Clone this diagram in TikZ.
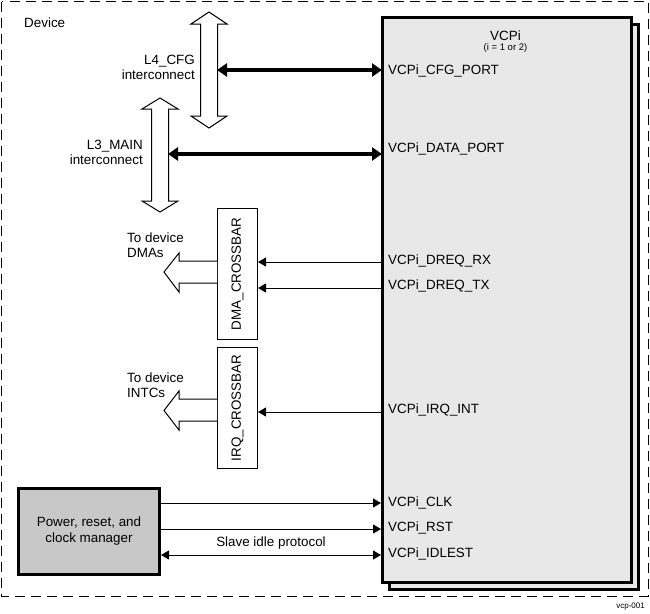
\documentclass[tikz,border=0pt]{standalone}
\usepackage{fontspec}
\setmainfont{Liberation Sans}
\usetikzlibrary{arrows.meta}
\definecolor{boxgray}{HTML}{E8E8E8}
\definecolor{pwrgray}{HTML}{C8C8C8}
\begin{document}
\begin{tikzpicture}[x=1pt,y=-1pt,
  font=\fontsize{13.4}{15}\selectfont,
  lbl/.style={inner sep=0pt},
  portlbl/.style={inner sep=0pt, anchor=west},
  mainbox/.style={draw, line width=3pt, fill=boxgray, minimum width=249pt, minimum height=565pt, anchor=north west, inner sep=0pt},
  xbar/.style={draw, line width=1pt, fill=white, minimum width=40pt, inner sep=0pt, anchor=north west},
  bigarrow/.style={line width=4pt, {Triangle[length=10pt,width=13pt]}-{Triangle[length=10pt,width=13pt]}, shorten <=-1pt, shorten >=-1pt},
  sig/.style={line width=1pt, -{Triangle[length=8pt,width=9pt]}},
  hollow/.style={draw, line width=1pt, fill=white, line join=miter}
]
\useasboundingbox (0,0) rectangle (650,613);
% device border
\draw[line width=1pt, dash pattern=on 10pt off 6pt] (1.5,1.5) rectangle (648,596);
\node[lbl, anchor=west] (dev) at (24,23) {Device};
\node[lbl, anchor=east, font=\fontsize{8}{9}\selectfont] (tag) at (645,607) {vcp-001};

% VCPi boxes
\node[mainbox] (vcpsh) at (388,23) {};
\node[mainbox] (vcp) at (381,16) {};
\node[lbl] (vtitle) at (505.5,36) {VCPi};
\node[lbl, font=\fontsize{9.5}{11}\selectfont] (vsub) at (505.5,48) {(i = 1 or 2)};

% port labels
\node[portlbl] (pcfg) at (388,71) {VCPi\_CFG\_PORT};
\node[portlbl] (pdata) at (388,149) {VCPi\_DATA\_PORT};
\node[portlbl] (prx) at (388,261) {VCPi\_DREQ\_RX};
\node[portlbl] (ptx) at (388,286) {VCPi\_DREQ\_TX};
\node[portlbl] (pirq) at (388,410) {VCPi\_IRQ\_INT};
\node[portlbl] (pclk) at (388,503) {VCPi\_CLK};
\node[portlbl] (prst) at (388,528) {VCPi\_RST};
\node[portlbl] (pidle) at (388,554) {VCPi\_IDLEST};

% interconnect hollow double arrows
\path[hollow] (209,12) -- (227,24) -- (217.5,24) -- (217.5,116) -- (227,116) -- (209,128)
  -- (191,116) -- (200.5,116) -- (200.5,24) -- (191,24) -- cycle;
\path[hollow] (160,98) -- (178,109) -- (168.5,109) -- (168.5,201) -- (178,201) -- (160,212)
  -- (142,201) -- (151.5,201) -- (151.5,109) -- (142,109) -- cycle;
\coordinate (l4e) at (218,70);
\coordinate (l3e) at (169,154);
\node[lbl, anchor=east, align=right] (l4lbl) at (195,67) {L4\_CFG\\interconnect};
\node[lbl, anchor=east, align=right] (l3lbl) at (143,152) {L3\_MAIN\\interconnect};

\draw[bigarrow] (l4e) -- (vcp.west |- l4e);
\draw[bigarrow] (l3e) -- (vcp.west |- l3e);

% crossbars
\node[xbar, minimum height=131pt] (dma) at (217,208) {};
\node[rotate=90, lbl] at (dma.center) {DMA\_CROSSBAR};
\node[xbar, minimum height=121pt] (irq) at (217,347) {};
\node[rotate=90, lbl] at (irq.center) {IRQ\_CROSSBAR};

% hollow out arrows
\path[hollow] (217,261) -- (179,261) -- (179,253) -- (164,272) -- (179,292) -- (179,283) -- (217,283);
\path[hollow] (217,399) -- (179,399) -- (179,391) -- (164,410.5) -- (179,430) -- (179,421) -- (217,421);
\node[lbl, anchor=west, align=left] (todma) at (127,245) {To device\\DMAs};
\node[lbl, anchor=west, align=left] (tointc) at (127,385) {To device\\INTCs};

% signals to crossbars
\coordinate (rxy) at (0,262);
\coordinate (txy) at (0,288);
\coordinate (irqy) at (0,412);
\draw[sig] (vcp.west |- rxy) -- (dma.east |- rxy);
\draw[sig] (vcp.west |- txy) -- (dma.east |- txy);
\draw[sig] (vcp.west |- irqy) -- (irq.east |- irqy);

% power manager
\node[draw, line width=3pt, fill=pwrgray, minimum width=141pt, minimum height=86pt, anchor=north west, align=center, inner sep=0pt] (pwr) at (17,487) {Power, reset, and\\[1pt]clock manager};
\coordinate (clky) at (0,503);
\coordinate (rsty) at (0,529);
\coordinate (idly) at (0,555);
\draw[sig] (pwr.east |- clky) -- (vcp.west |- clky);
\draw[sig] (pwr.east |- rsty) -- (vcp.west |- rsty);
\draw[sig, {Triangle[length=8pt,width=9pt]}-{Triangle[length=8pt,width=9pt]}] (pwr.east |- idly) -- node[lbl, above=5pt] {Slave idle protocol} (vcp.west |- idly);
\end{tikzpicture}
\end{document}
